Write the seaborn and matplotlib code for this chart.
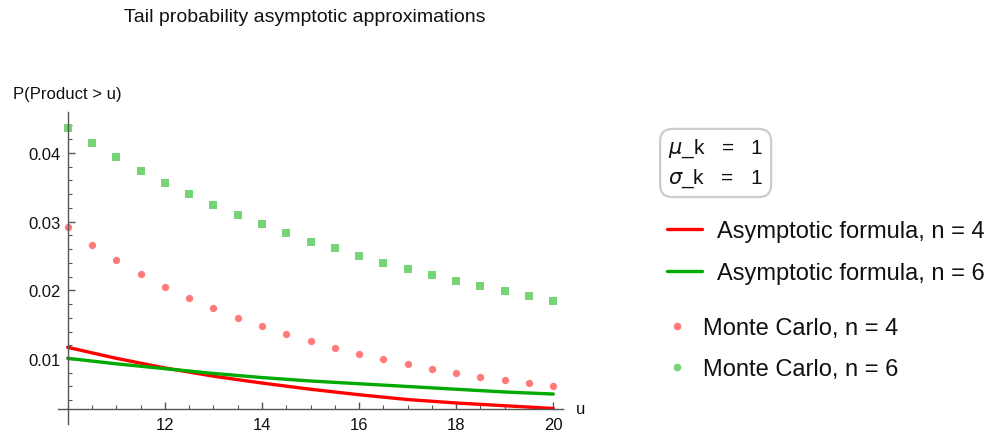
import numpy as np
import pandas as pd
import matplotlib
matplotlib.use("Agg")
import matplotlib.pyplot as plt
from matplotlib.lines import Line2D
from matplotlib.ticker import FixedLocator
import seaborn as sns

# ---- data ----
u_mc = [10, 10.5, 11, 11.5, 12, 12.5, 13, 13.5, 14, 14.5, 15, 15.5, 16, 16.5,
        17, 17.5, 18, 18.5, 19, 19.5, 20]
mc_n4 = [0.0292, 0.0266, 0.0244, 0.0224, 0.0205, 0.0189, 0.0174, 0.0160, 0.0148,
         0.0136, 0.0126, 0.0116, 0.0108, 0.0100, 0.0093, 0.0086, 0.0080, 0.0074,
         0.0069, 0.0065, 0.0060]
mc_n6 = [0.0436, 0.0414, 0.0394, 0.0373, 0.0356, 0.0340, 0.0324, 0.0309, 0.0296,
         0.0283, 0.0271, 0.0261, 0.0250, 0.0239, 0.0231, 0.0222, 0.0213, 0.0206,
         0.0199, 0.0191, 0.0184]
u_line = [10, 11, 12, 13, 14, 15, 16, 17, 18, 19, 20]
asym_n4 = [0.0117, 0.0101, 0.0087, 0.0075, 0.0065, 0.0056, 0.0048, 0.0041,
           0.0036, 0.0032, 0.0028]
asym_n6 = [0.0101, 0.0093, 0.0086, 0.0079, 0.0073, 0.0068, 0.0064, 0.0060,
           0.0056, 0.0052, 0.0049]
x_major = [12, 14, 16, 18, 20]
y_major = [0.01, 0.02, 0.03, 0.04]
y_labels = ["0.01", "0.02", "0.03", "0.04"]
labels = ["Asymptotic formula, n = 4", "Asymptotic formula, n = 6",
          "Monte Carlo, n = 4", "Monte Carlo, n = 6"]

sns.set_style("white")
plt.rcParams['font.family'] = ['Liberation Sans', 'DejaVu Sans']
plt.rcParams['mathtext.fontset'] = 'dejavusans'

RED = "#FF0000"
GREEN = "#00AA00"
LRED = "#FF7B7B"
LGREEN = "#76D376"
AXC = "#555555"

W, H = 1003, 435
fig = plt.figure(figsize=(W / 100, H / 100), dpi=100)
ax = fig.add_axes([58 / W, (H - 425) / H, (563 - 58) / W, (425 - 113) / H])

sns.lineplot(x=u_line, y=asym_n4, color=RED, lw=2.4, ax=ax)
sns.lineplot(x=u_line, y=asym_n6, color=GREEN, lw=2.4, ax=ax)
sns.scatterplot(x=u_mc, y=mc_n4, color=LRED, s=28, marker='o', linewidth=0, ax=ax)
sns.scatterplot(x=u_mc, y=mc_n6, color=LGREEN, s=30, marker='s', linewidth=0, ax=ax)

ax.set_xlim(9.80, 20.2)
ax.set_ylim(0.00054, 0.04595)
for s in ['top', 'right']:
    ax.spines[s].set_visible(False)
ax.spines['left'].set_position(('data', 10))
ax.spines['bottom'].set_position(('data', 0.00272))
for s in ['left', 'bottom']:
    ax.spines[s].set_color(AXC)
    ax.spines[s].set_linewidth(1.0)

ax.xaxis.set_major_locator(FixedLocator(x_major))
ax.xaxis.set_minor_locator(FixedLocator(np.arange(10, 20.01, 0.5)))
ax.yaxis.set_major_locator(FixedLocator(y_major))
ax.set_yticklabels(y_labels)
ax.yaxis.set_minor_locator(FixedLocator(np.arange(0.004, 0.0441, 0.002)))
ax.tick_params(which='both', direction='in', color=AXC, labelsize=12, labelcolor='#111111',
               bottom=True, left=True, top=False, right=False)
ax.tick_params(which='major', length=5, width=1.0)
ax.tick_params(which='minor', length=3, width=0.8)
ax.tick_params(axis='x', pad=6)
ax.tick_params(axis='y', pad=5)
ax.set_xlabel("")
ax.set_ylabel("")

fig.text(305 / W, 1 - 18 / H, "Tail probability asymptotic approximations",
         ha='center', va='center', fontsize=14, color='#111111')
fig.text(13 / W, 1 - 95 / H, "P(Product > u)", ha='left', va='center',
         fontsize=12, color='#111111')
fig.text(576 / W, 1 - 410 / H, "u", ha='left', va='center', fontsize=12, color='#111111')

fig.text(668 / W, 1 - 164 / H, "$\\mu$_k   =   1\n$\\sigma$_k   =   1", ha='left', va='center',
         fontsize=15, linespacing=1.45, color='#111111',
         bbox=dict(boxstyle='round,pad=0.38,rounding_size=0.6', fc='white', ec='#cccccc', lw=1.6))

h_lines = [Line2D([], [], color=RED, lw=2.4), Line2D([], [], color=GREEN, lw=2.4)]
leg1 = fig.legend(handles=h_lines, labels=labels[:2], loc='upper left',
                  bbox_to_anchor=(667 / W, 1 - 221 / H), frameon=False, fontsize=17,
                  handlelength=1.5, handletextpad=0.6, labelspacing=0.85,
                  borderpad=0, borderaxespad=0)
h_pts = [Line2D([], [], ls='', marker='o', ms=5.5, mfc=LRED, mec='none'),
         Line2D([], [], ls='', marker='o', ms=5.5, mfc=LGREEN, mec='none')]
leg2 = fig.legend(handles=h_pts, labels=labels[2:], loc='upper left',
                  bbox_to_anchor=(665 / W, 1 - 318 / H), frameon=False, fontsize=17,
                  handlelength=1.0, handletextpad=0.6, labelspacing=0.82,
                  borderpad=0, borderaxespad=0)
for lg in (leg1, leg2):
    for t in lg.get_texts():
        t.set_color('#111111')

fig.savefig("out.png", dpi=100)
